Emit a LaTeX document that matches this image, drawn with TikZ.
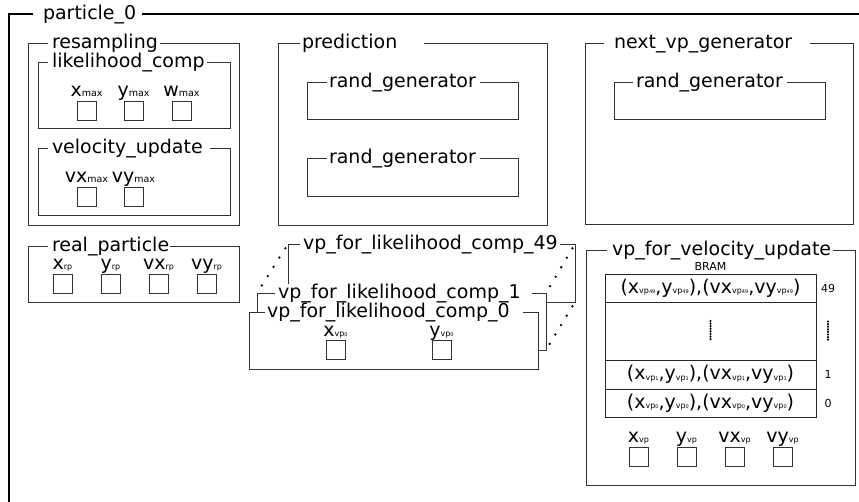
\documentclass[tikz,border=0pt]{standalone}
\usepackage{fontspec}
\setmainfont{DejaVu Sans}
\usetikzlibrary{fit}

\definecolor{framecol}{HTML}{333333}

% font sizes (1pt in the picture = one unit of the layout grid)
\newcommand\mainsz{\fontsize{19}{22}\selectfont}
\newcommand\subsz{\fontsize{8}{9}\selectfont}
\newcommand\maxsz{\fontsize{9.5}{11}\selectfont}
\newcommand\tinysz{\fontsize{5}{6}\selectfont}
\newcommand\smallsz{\fontsize{11}{13}\selectfont}

% subscripts used by the register labels
\newcommand\submax{{\maxsz\raisebox{-0.5pt}{max}}}
\newcommand\subrp{{\subsz\raisebox{-0.5pt}{rp}}}
\newcommand\subvp{{\subsz\raisebox{-0.5pt}{vp}}}
\newcommand\subvpn[1]{{\subsz\raisebox{-0.5pt}{vp{\tinysz #1}}}}

\tikzset{
  frm/.style={draw=framecol, line width=1pt, inner sep=0pt, outer sep=0pt},
  frmw/.style={frm, fill=white},
  ttl/.style={fill=white, inner sep=0pt, outer sep=0pt, font=\mainsz, text=black},
  reg/.style={draw=framecol, line width=1pt, minimum size=19pt, inner sep=0pt,
              outer sep=0pt, anchor=north west},
  lbl/.style={inner sep=0pt, font=\mainsz, anchor=base},
  cell/.style={draw=black!85, line width=1pt, minimum width=211pt, inner sep=0pt,
               outer sep=0pt, anchor=north west, font=\mainsz},
  idx/.style={font=\smallsz, inner sep=0pt},
  dotchain/.style={line width=2.6pt, line cap=round, dash pattern=on 0pt off 11pt,
                   shorten <=5pt, shorten >=5pt},
  vdotline/.style={line width=2.4pt, line cap=round, dash pattern=on 0pt off 2.6pt}
}

% title placed over the top edge of a frame:
% name, gap start x, baseline y, gap width, left padding, text
\newcommand\ftitle[6]{\node[ttl, anchor=base west] (#1) at (#2,#3)
  {\makebox[#4pt][l]{\hspace*{#5pt}#6}};}

% one register: name, x, y (top left), label
\newcommand\regbox[4]{\node[reg] (#1) at (#2,#3) {};
  \node[lbl] (#1-l) at ([yshift=5pt]#1.north) {#4};}

\begin{document}
\begin{tikzpicture}[x=1pt, y=-1pt]
\useasboundingbox (0,0) rectangle (859,501);
\clip (0,0) rectangle (859,501);

% whole particle
\node[frm, draw=black, line width=1.3pt, fit={(9,14) (890,530)}] (p0) {};
\ftitle{p0t}{33}{19}{109}{10}{particle\_0}

% resampling block
\node[frm, fit={(28,43) (239,225)}] (res) {};
\ftitle{rest}{48}{48}{112}{4}{resampling}

\node[frm, fit={(38,62) (230,128)}] (lik) {};
\ftitle{likt}{48}{67}{159}{4}{likelihood\_comp}
\regbox{lx}{77}{101}{x\submax}
\regbox{ly}{124}{101}{y\submax}
\regbox{lw}{172}{101}{w\submax}

\node[frm, fit={(38,148) (230,215)}] (vel) {};
\ftitle{velt}{48}{153}{162}{4}{velocity\_update}
\regbox{vvx}{77}{187}{vx\submax}
\regbox{vvy}{124}{187}{vy\submax}

% real particle
\node[frm, fit={(28,246) (239,302)}] (rp) {};
\ftitle{rpt}{48}{251}{122}{4}{real\_particle}
\regbox{rx}{53}{274}{x\subrp}
\regbox{ry}{101}{274}{y\subrp}
\regbox{rvx}{149}{274}{vx\subrp}
\regbox{rvy}{197}{274}{vy\subrp}

% prediction
\node[frm, fit={(278,43) (547,225)}] (pred) {};
\ftitle{predt}{300}{48}{124}{2}{prediction}
\node[frm, fit={(307,82) (518,119)}] (rg1) {};
\ftitle{rg1t}{327}{87}{153}{2}{rand\_generator}
\node[frm, fit={(307,158) (518,196)}] (rg2) {};
\ftitle{rg2t}{327}{163}{153}{2}{rand\_generator}

% next vp generator
\node[frm, fit={(585,43) (853,224)}] (nvp) {};
\ftitle{nvpt}{604}{48}{206}{10}{next\_vp\_generator}
\node[frm, fit={(614,82) (825,119)}] (rg3) {};
\ftitle{rg3t}{633}{87}{154}{3}{rand\_generator}

% stack of vp_for_likelihood_comp blocks
\node[frm, fit={(288,244) (575,302)}] (vp49) {};
\ftitle{vp49t}{300}{249}{260}{3}{vp\_for\_likelihood\_comp\_49}
\node[frmw, fit={(257,293) (546,350)}] (vp1) {};
\ftitle{vp1t}{275}{298}{257}{3}{vp\_for\_likelihood\_comp\_1}
\node[frmw, fit={(249,312) (538,369)}] (vp0) {};
\ftitle{vp0t}{265}{317}{258}{2}{vp\_for\_likelihood\_comp\_0}
\node[reg] (v0x) at (326,340) {};
\node[lbl] (v0x-l) at ([yshift=4pt]v0x.north) {x\subvpn{0}};
\node[reg] (v0y) at (432,340) {};
\node[lbl] (v0y-l) at ([yshift=4pt]v0y.north) {y\subvpn{0}};

\draw[dotchain] (vp49.north west) -- (vp1.north west);
\draw[dotchain] (vp49.north east) -- (vp1.north east);
\draw[dotchain] (vp49.south east) -- (vp1.south east);

% vp_for_velocity_update with its BRAM
\node[frm, fit={(586,250) (855,485)}] (vpv) {};
\ftitle{vpvt}{607}{255}{226}{5}{vp\_for\_velocity\_update}

\node[idx] (bram) at (710.5,266) {BRAM};
\node[cell, minimum height=28pt] (c49) at (605,274)
  {(x\subvpn{49},y\subvpn{49}),(vx\subvpn{49},vy\subvpn{49})};
\node[cell, minimum height=58pt] (cmid) at (605,302) {};
\node[cell, minimum height=29pt] (c1) at (605,360)
  {(x\subvpn{1},y\subvpn{1}),(vx\subvpn{1},vy\subvpn{1})};
\node[cell, minimum height=28pt] (c0) at (605,389)
  {(x\subvpn{0},y\subvpn{0}),(vx\subvpn{0},vy\subvpn{0})};

\node[idx] (i49) at (828,288) {49};
\node[idx] (i1) at (828,374.5) {1};
\node[idx] (i0) at (828,403) {0};
\coordinate (rdots) at (828,331.5);
\draw[vdotline] ([yshift=10pt]cmid.center) -- ([yshift=-10pt]cmid.center);
\draw[vdotline] ([yshift=10pt]rdots) -- ([yshift=-10pt]rdots);

\regbox{ux}{629}{447}{x\subvp}
\regbox{uy}{677}{447}{y\subvp}
\regbox{uvx}{725}{447}{vx\subvp}
\regbox{uvy}{773}{447}{vy\subvp}
\end{tikzpicture}
\end{document}
